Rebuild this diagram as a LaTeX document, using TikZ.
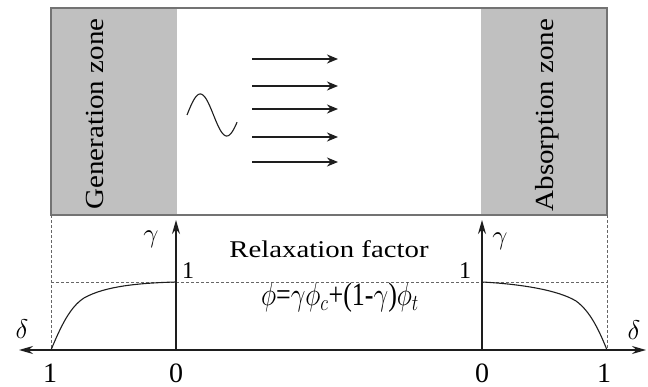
\RequirePackage{fix-cm}
\documentclass[tikz,border=0pt]{standalone}
\usepackage{fontspec}
\usepackage{graphicx}
\setmainfont{Liberation Serif}
\usetikzlibrary{arrows.meta}
\definecolor{zonegray}{RGB}{192,192,192}
\definecolor{framegray}{RGB}{115,115,115}
\definecolor{ink}{RGB}{30,30,30}
\begin{document}
\begin{tikzpicture}[x=1pt,y=-1pt,
  zone/.style={fill=zonegray,draw=none},
  frame/.style={draw=framegray,line width=1.4pt},
  axis/.style={draw=ink,line width=1.4pt},
  axtip/.style={-{Stealth[length=14pt,width=8pt]}},
  flow/.style={draw=ink,line width=2pt,-{Stealth[length=11pt,width=9pt]}},
  guide/.style={draw=black!60,line width=0.8pt,dash pattern=on 3pt off 2pt},
  curve/.style={draw=ink,line width=1.1pt},
  ztext/.style={font=\fontsize{29}{33}\selectfont,inner sep=0pt,rotate=90,anchor=base},
  htext/.style={font=\fontsize{24}{28}\selectfont,inner sep=0pt,anchor=base},
  eqtext/.style={font=\fontsize{26}{30}\selectfont,inner sep=0pt,anchor=base},
  lab/.style={font=\fontsize{24}{28}\selectfont,inner sep=0pt},
  greek/.style={font=\fontsize{27}{31}\selectfont,inner sep=0pt},
  num/.style={font=\fontsize{28}{32}\selectfont,inner sep=0pt,anchor=base}]
\useasboundingbox (0,0) rectangle (648,387);
% zones and frame
\fill[zone] (51,8) rectangle (177,215);
\fill[zone] (481,8) rectangle (607,215);
\draw[frame] (51,8) rectangle (607,215);
\node[ztext] (gen) at (103,114) {\scalebox{1}[0.9]{Generation zone}};
\node[ztext] (abs) at (553,115) {\scalebox{1}[0.9]{Absorption zone}};
% wave
\draw[ink,line width=1.1pt] plot[domain=0:340,samples=70] ({187+\x/360*53},{115-21*sin(\x)});
% flow arrows
\foreach \i/\yy in {1/59,2/86,3/109,4/137,5/162}{
  \coordinate (fa\i) at (252,\yy);
  \coordinate (fb\i) at (338,\yy);
  \draw[flow] (fa\i) -- (fb\i);
}
% guide lines
\coordinate (gl) at (51,282);
\coordinate (gr) at (607,282);
\coordinate (dl1) at (51,215);
\coordinate (dl2) at (51,350);
\coordinate (dr1) at (607,215);
\coordinate (dr2) at (607,350);
\draw[guide] (gl) -- (gr);
\draw[guide] (dl1) -- (dl2);
\draw[guide] (dr1) -- (dr2);
% axes
\coordinate (O1) at (176,350);
\coordinate (O2) at (482,350);
\coordinate (T1) at (176,220);
\coordinate (T2) at (482,220);
\coordinate (XL) at (19,350);
\coordinate (XR) at (646,350);
\draw[axis] (O1) -- (O2);
\draw[axis,axtip] (O1) -- (XL);
\draw[axis,axtip] (O2) -- (XR);
\draw[axis,axtip] (O1) -- (T1);
\draw[axis,axtip] (O2) -- (T2);
% relaxation curves
\draw[curve] (dl2) .. controls (61,326) and (70,307) .. (84,298)
  .. controls (105,286) and (140,283) .. (176,282);
\draw[curve] (482,282) .. controls (520,284) and (558,290) .. (576,301)
  .. controls (590,311) and (599,330) .. (dr2);
% texts
\node[htext] (rf) at (329,258) {\scalebox{1.2}[1]{Relaxation factor}};
\node[eqtext] (eq) at (340,306)
  {\scalebox{1}[1.25]{$\phi$=$\gamma\phi_c$+(1-$\gamma$)$\phi_t$}};
\node[greek] (g1) at (151,239) {$\gamma$};
\node[greek] (g2) at (500,241) {$\gamma$};
\node[lab,anchor=base] (u1) at (188,279) {1};
\node[lab,anchor=base] (u2) at (465,279) {1};
\node[greek] (d1) at (22,329) {$\delta$};
\node[greek] (d2) at (634,330) {$\delta$};
\node[num] (b1) at (50,382) {1};
\node[num] (b2) at (176,382) {0};
\node[num] (b3) at (482,382) {0};
\node[num] (b4) at (604,382) {1};
\end{tikzpicture}
\end{document}
